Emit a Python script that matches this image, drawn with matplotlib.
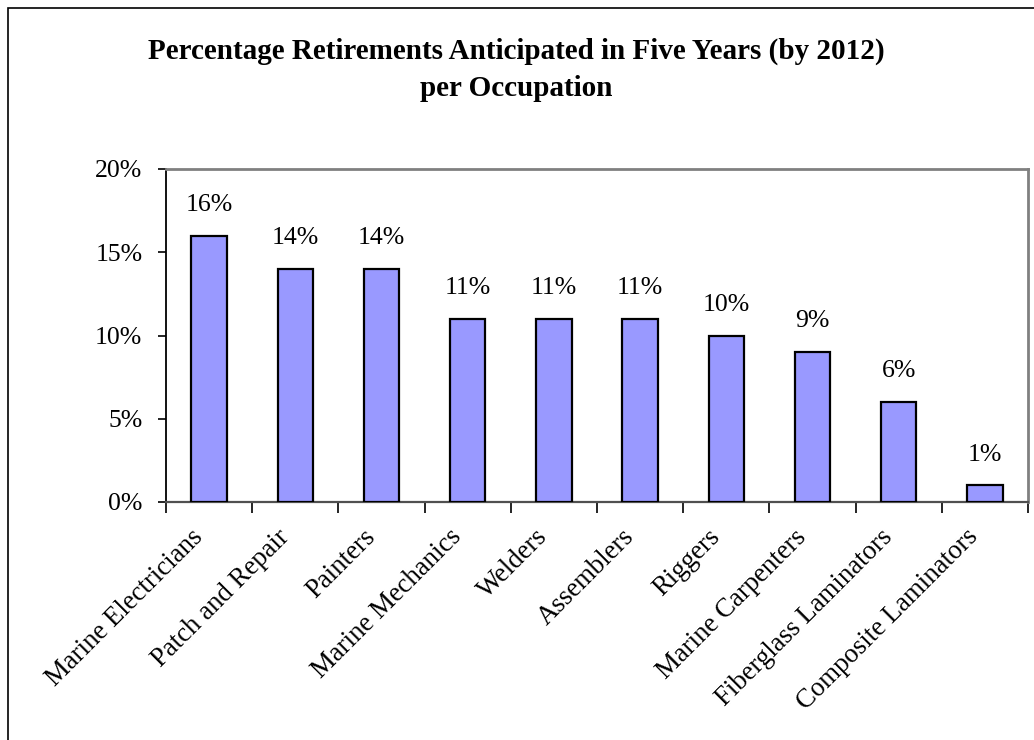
import matplotlib.pyplot as plt
from matplotlib.patches import Rectangle

occupations = ['Marine Electricians', 'Patch and Repair', 'Painters', 'Marine Mechanics',
               'Welders', 'Assemblers', 'Riggers', 'Marine Carpenters',
               'Fiberglass Laminators', 'Composite Laminators']
retire_pct = [16, 14, 14, 11, 11, 11, 10, 9, 6, 1]
y_ticks = [0, 5, 10, 15, 20]

plt.rcParams['font.family'] = ['Liberation Serif', 'DejaVu Serif']

fig = plt.figure(figsize=(10.34, 7.4), dpi=100)
ax = fig.add_axes([166 / 1034, 1 - 502 / 740, (1028 - 166) / 1034, (502 - 169) / 740])

x = range(len(occupations))
ax.bar(x, retire_pct, width=0.41, color='#9999FF', edgecolor='black', linewidth=1.6, zorder=3)
for i, v in enumerate(retire_pct):
    ax.text(i, v + 1.85, f'{v}%', ha='center', va='center', fontsize=18.5)

ax.set_xlim(-0.5, len(occupations) - 0.5)
ax.set_ylim(0, 20)
ax.set_yticks(y_ticks)
ax.set_yticklabels([f'{t}%' for t in y_ticks], fontsize=18.5)

# category ticks sit between the bars, labels are rotated under each bar
ax.set_xticks([i - 0.5 for i in range(len(occupations) + 1)])
ax.set_xticklabels([])
ax.tick_params(axis='x', direction='out', length=8, width=1.2, color='black')
ax.tick_params(axis='y', direction='out', length=6, width=1.2, color='black', pad=11)
for i, name in enumerate(occupations):
    ax.text(i - 0.22, -1.35, name, rotation=45, ha='right', va='top',
            rotation_mode='anchor', fontsize=19.3)

for side in ['top', 'right']:
    ax.spines[side].set_color('#808080')
    ax.spines[side].set_linewidth(2)
ax.spines['left'].set_color('black')
ax.spines['left'].set_linewidth(1.3)
ax.spines['bottom'].set_color('#505050')
ax.spines['bottom'].set_linewidth(1.6)

fig.text(516 / 1034, 1 - 51 / 740, 'Percentage Retirements Anticipated in Five Years (by 2012)',
         ha='center', va='center', fontsize=21, fontweight='bold')
fig.text(516 / 1034, 1 - 88 / 740, 'per Occupation',
         ha='center', va='center', fontsize=21, fontweight='bold')

# outer chart border
fig.patches.append(Rectangle((8 / 1034, -0.01), 1.05, 1 - 8 / 740 + 0.01,
                             transform=fig.transFigure, fill=False,
                             edgecolor='black', linewidth=1.2))

fig.savefig('out.png', dpi=100)
